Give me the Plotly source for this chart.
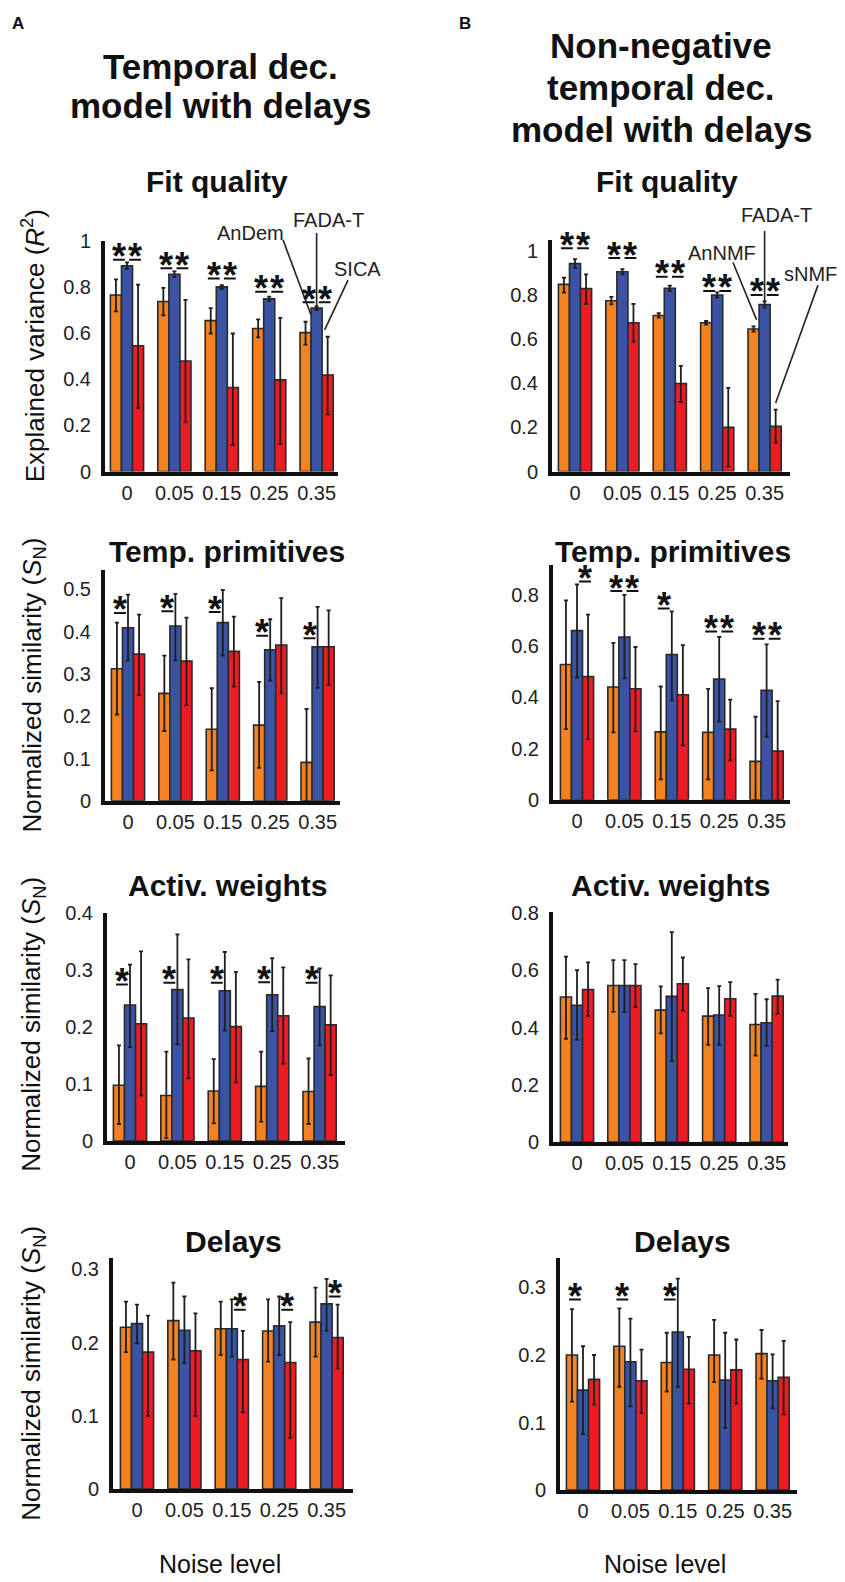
import plotly.graph_objects as go

W, H = 845, 1582
FONT = "Liberation Sans, Arial, sans-serif"

noise_labels = ["0", "0.05", "0.15", "0.25", "0.35"]
groups = [0, 1, 2, 3, 4]

names_A = ["AnDem", "FADA-T", "SICA"]
names_B = ["AnNMF", "FADA-T", "sNMF"]
colors = ["#F58220", "#3A53A4", "#ED1C24"]

# ---- A1: Fit quality (temporal dec. model) ----
A1_or = [0.765, 0.737, 0.654, 0.620, 0.602]
A1_or_lo = [0.694, 0.677, 0.598, 0.581, 0.550]
A1_or_hi = [0.833, 0.796, 0.708, 0.659, 0.649]
A1_bl = [0.892, 0.855, 0.800, 0.748, 0.708]
A1_bl_lo = [0.878, 0.843, 0.792, 0.738, 0.700]
A1_bl_hi = [0.906, 0.867, 0.808, 0.758, 0.716]
A1_rd = [0.545, 0.479, 0.364, 0.397, 0.418]
A1_rd_lo = [0.276, 0.215, 0.116, 0.120, 0.248]
A1_rd_hi = [0.810, 0.744, 0.598, 0.666, 0.584]
A1_star_ob = [0.918, 0.881, 0.836, 0.779, 0.734]
A1_star_br = [0.918, 0.881, 0.836, 0.779, 0.734]

# ---- A2: Temp. primitives ----
A2_or = [0.312, 0.254, 0.169, 0.179, 0.091]
A2_or_lo = [0.204, 0.165, 0.072, 0.078, 0.0]
A2_or_hi = [0.421, 0.343, 0.266, 0.281, 0.217]
A2_bl = [0.409, 0.413, 0.421, 0.357, 0.364]
A2_bl_lo = [0.332, 0.332, 0.343, 0.284, 0.267]
A2_bl_hi = [0.487, 0.489, 0.498, 0.429, 0.458]
A2_rd = [0.347, 0.330, 0.353, 0.368, 0.364]
A2_rd_lo = [0.250, 0.226, 0.270, 0.254, 0.274]
A2_rd_hi = [0.440, 0.433, 0.435, 0.479, 0.450]
A2_star_ob = [0.444, 0.448, 0.446, 0.390, 0.384]
A2_star_br = [None, None, None, None, None]

# ---- A3: Activ. weights ----
A3_or = [0.098, 0.080, 0.088, 0.096, 0.087]
A3_or_lo = [0.030, 0.005, 0.031, 0.034, 0.030]
A3_or_hi = [0.168, 0.157, 0.144, 0.157, 0.145]
A3_bl = [0.239, 0.266, 0.264, 0.257, 0.236]
A3_bl_lo = [0.165, 0.170, 0.194, 0.193, 0.168]
A3_bl_hi = [0.310, 0.363, 0.332, 0.321, 0.303]
A3_rd = [0.206, 0.216, 0.201, 0.220, 0.204]
A3_rd_lo = [0.080, 0.110, 0.103, 0.136, 0.116]
A3_rd_hi = [0.333, 0.319, 0.297, 0.305, 0.291]
A3_star_ob = [0.275, 0.278, 0.278, 0.279, 0.278]
A3_star_br = [None, None, None, None, None]

# ---- A4: Delays ----
A4_or = [0.221, 0.230, 0.219, 0.216, 0.228]
A4_or_lo = [0.187, 0.177, 0.183, 0.174, 0.181]
A4_or_hi = [0.256, 0.282, 0.256, 0.259, 0.275]
A4_bl = [0.226, 0.217, 0.219, 0.223, 0.253]
A4_bl_lo = [0.199, 0.172, 0.181, 0.183, 0.216]
A4_bl_hi = [0.252, 0.263, 0.259, 0.263, 0.287]
A4_rd = [0.187, 0.189, 0.177, 0.173, 0.207]
A4_rd_lo = [0.100, 0.100, 0.105, 0.070, 0.165]
A4_rd_hi = [0.237, 0.240, 0.216, 0.228, 0.252]
A4_star_ob = [None, None, None, None, None]
A4_star_br = [None, None, 0.245, 0.245, 0.263]

# ---- B1: Fit quality (non-negative model) ----
B1_or = [0.848, 0.774, 0.707, 0.674, 0.646]
B1_or_lo = [0.811, 0.757, 0.697, 0.666, 0.634]
B1_or_hi = [0.878, 0.791, 0.717, 0.682, 0.658]
B1_bl = [0.942, 0.905, 0.830, 0.800, 0.756]
B1_bl_lo = [0.922, 0.893, 0.818, 0.788, 0.741]
B1_bl_hi = [0.962, 0.917, 0.842, 0.812, 0.771]
B1_rd = [0.829, 0.674, 0.399, 0.200, 0.205]
B1_rd_lo = [0.759, 0.588, 0.315, 0.022, 0.131]
B1_rd_hi = [0.893, 0.759, 0.479, 0.379, 0.280]
B1_star_ob = [1.012, 0.967, 0.882, 0.818, 0.800]
B1_star_br = [1.012, 0.967, 0.882, 0.818, 0.800]

# ---- B2: Temp. primitives ----
B2_or = [0.528, 0.440, 0.265, 0.263, 0.150]
B2_or_lo = [0.276, 0.263, 0.080, 0.080, 0.0]
B2_or_hi = [0.778, 0.612, 0.442, 0.433, 0.324]
B2_bl = [0.660, 0.635, 0.567, 0.471, 0.427]
B2_bl_lo = [0.477, 0.474, 0.388, 0.305, 0.246]
B2_bl_hi = [0.840, 0.799, 0.735, 0.635, 0.606]
B2_rd = [0.481, 0.433, 0.410, 0.276, 0.190]
B2_rd_lo = [0.237, 0.267, 0.212, 0.154, 0.0]
B2_rd_hi = [0.722, 0.596, 0.603, 0.391, 0.385]
B2_star_ob = [None, 0.814, 0.746, 0.656, 0.628]
B2_star_br = [0.851, 0.814, None, 0.656, 0.628]

# ---- B3: Activ. weights ----
B3_or = [0.507, 0.547, 0.461, 0.440, 0.411]
B3_or_lo = [0.361, 0.455, 0.380, 0.340, 0.302]
B3_or_hi = [0.648, 0.636, 0.544, 0.538, 0.518]
B3_bl = [0.478, 0.547, 0.509, 0.444, 0.417]
B3_bl_lo = [0.357, 0.455, 0.283, 0.340, 0.337]
B3_bl_hi = [0.601, 0.636, 0.734, 0.545, 0.499]
B3_rd = [0.533, 0.547, 0.553, 0.501, 0.510]
B3_rd_lo = [0.441, 0.472, 0.459, 0.441, 0.449]
B3_rd_hi = [0.628, 0.622, 0.645, 0.559, 0.568]
B3_star_ob = [None, None, None, None, None]
B3_star_br = [None, None, None, None, None]

# ---- B4: Delays ----
B4_or = [0.200, 0.213, 0.189, 0.200, 0.202]
B4_or_lo = [0.131, 0.153, 0.146, 0.160, 0.165]
B4_or_hi = [0.268, 0.269, 0.233, 0.252, 0.237]
B4_bl = [0.148, 0.190, 0.234, 0.163, 0.162]
B4_bl_lo = [0.083, 0.124, 0.153, 0.092, 0.121]
B4_bl_hi = [0.213, 0.254, 0.313, 0.233, 0.201]
B4_rd = [0.164, 0.162, 0.179, 0.178, 0.167]
B4_rd_lo = [0.127, 0.114, 0.128, 0.128, 0.112]
B4_rd_hi = [0.200, 0.208, 0.227, 0.223, 0.221]
B4_star_ob = [0.282, 0.282, 0.282, None, None]
B4_star_br = [None, None, None, None, None]

# y ticks per panel
A1_yt = [0, 0.2, 0.4, 0.6, 0.8, 1]
A2_yt = [0, 0.1, 0.2, 0.3, 0.4, 0.5]
A3_yt = [0, 0.1, 0.2, 0.3, 0.4]
A4_yt = [0, 0.1, 0.2, 0.3]
B1_yt = [0, 0.2, 0.4, 0.6, 0.8, 1]
B2_yt = [0, 0.2, 0.4, 0.6, 0.8]
B3_yt = [0, 0.2, 0.4, 0.6, 0.8]
B4_yt = [0, 0.1, 0.2, 0.3]

# layout geometry in pixels: left, right, top, bottom, first group centre, y max
SP = 47.4
panels = [
    dict(d=[A1_or, A1_bl, A1_rd], lo=[A1_or_lo, A1_bl_lo, A1_rd_lo], hi=[A1_or_hi, A1_bl_hi, A1_rd_hi],
         sob=A1_star_ob, sbr=A1_star_br, yt=A1_yt, g=(105, 338, 233, 467, 127, 1.0), names=names_A),
    dict(d=[A2_or, A2_bl, A2_rd], lo=[A2_or_lo, A2_bl_lo, A2_rd_lo], hi=[A2_or_hi, A2_bl_hi, A2_rd_hi],
         sob=A2_star_ob, sbr=A2_star_br, yt=A2_yt, g=(105, 340, 567, 801, 128, 0.545), names=names_A),
    dict(d=[A3_or, A3_bl, A3_rd], lo=[A3_or_lo, A3_bl_lo, A3_rd_lo], hi=[A3_or_hi, A3_bl_hi, A3_rd_hi],
         sob=A3_star_ob, sbr=A3_star_br, yt=A3_yt, g=(107, 345, 915, 1146, 130, 0.4), names=names_A),
    dict(d=[A4_or, A4_bl, A4_rd], lo=[A4_or_lo, A4_bl_lo, A4_rd_lo], hi=[A4_or_hi, A4_bl_hi, A4_rd_hi],
         sob=A4_star_ob, sbr=A4_star_br, yt=A4_yt, g=(113, 353, 1265, 1499, 137, 0.315), names=names_A),
    dict(d=[B1_or, B1_bl, B1_rd], lo=[B1_or_lo, B1_bl_lo, B1_rd_lo], hi=[B1_or_hi, B1_bl_hi, B1_rd_hi],
         sob=B1_star_ob, sbr=B1_star_br, yt=B1_yt, g=(552, 790, 232, 467, 575, 1.05), names=names_B),
    dict(d=[B2_or, B2_bl, B2_rd], lo=[B2_or_lo, B2_bl_lo, B2_rd_lo], hi=[B2_or_hi, B2_bl_hi, B2_rd_hi],
         sob=B2_star_ob, sbr=B2_star_br, yt=B2_yt, g=(553, 790, 562, 800, 577, 0.915), names=names_B),
    dict(d=[B3_or, B3_bl, B3_rd], lo=[B3_or_lo, B3_bl_lo, B3_rd_lo], hi=[B3_or_hi, B3_bl_hi, B3_rd_hi],
         sob=B3_star_ob, sbr=B3_star_br, yt=B3_yt, g=(553, 788, 914, 1147, 577, 0.803), names=names_B),
    dict(d=[B4_or, B4_bl, B4_rd], lo=[B4_or_lo, B4_bl_lo, B4_rd_lo], hi=[B4_or_hi, B4_bl_hi, B4_rd_hi],
         sob=B4_star_ob, sbr=B4_star_br, yt=B4_yt, g=(560, 797, 1265, 1500, 583, 0.343), names=names_B),
]

fig = go.Figure()
annotations = []
shapes = []
layout_axes = {}

def tick_text(v):
    return "0" if v == 0 else ("1" if v == 1 else ("%g" % v))

def data_to_px(p, x, y):
    L, R, T, B, c0, ymax = p["g"]
    return (c0 + x * SP, B - y / ymax * (B - T))

for k, p in enumerate(panels):
    n = k + 1
    xa = "x" if n == 1 else "x%d" % n
    ya = "y" if n == 1 else "y%d" % n
    L, R, T, B, c0, ymax = p["g"]
    for j in range(3):
        vals = p["d"][j]
        fig.add_trace(go.Bar(
            x=groups, y=vals, xaxis=xa, yaxis=ya, name=p["names"][j], showlegend=False,
            offsetgroup=str(j),
            marker=dict(color=colors[j], line=dict(color="#2a2a2a", width=1.6)),
            error_y=dict(type="data", symmetric=False,
                         array=[h - v for h, v in zip(p["hi"][j], vals)],
                         arrayminus=[v - l for v, l in zip(vals, p["lo"][j])],
                         color="#1e1e1e", thickness=1.8, width=2),
        ))
    layout_axes["xaxis" if n == 1 else "xaxis%d" % n] = dict(
        domain=[L / W, R / W], range=[(L - c0) / SP, (R - c0) / SP], anchor=ya,
        tickvals=groups, ticktext=noise_labels, showline=True, linewidth=4, linecolor="#111",
        ticks="", showgrid=False, zeroline=False,
        tickfont=dict(size=20, color="#222", family=FONT), fixedrange=True)
    layout_axes["yaxis" if n == 1 else "yaxis%d" % n] = dict(
        domain=[1 - B / H, 1 - T / H], range=[0, ymax], anchor=xa,
        tickvals=p["yt"], ticktext=[tick_text(v) for v in p["yt"]], showline=True, linewidth=4,
        linecolor="#111", ticks="outside", ticklen=6, tickcolor="rgba(0,0,0,0)", showgrid=False,
        zeroline=False, tickfont=dict(size=20, color="#222", family=FONT), fixedrange=True)
    # significance stars
    for side, lst in ((-0.17, p["sob"]), (0.17, p["sbr"])):
        for gi, u in zip(groups, lst):
            if u is None:
                continue
            annotations.append(dict(x=gi + side, y=u, xref=xa, yref=ya, text="<b>*</b>",
                                    showarrow=False, yanchor="middle", yshift=3,
                                    font=dict(size=36, color="#111", family=FONT)))
            shapes.append(dict(type="line", xref=xa, yref=ya, x0=gi + side - 0.125, x1=gi + side + 0.125,
                               y0=u, y1=u, line=dict(color="#111", width=2)))

# method labels with leader lines (fit-quality panels), drawn in page coordinates
w = 0.7 / 3
pA, pB = panels[0], panels[4]
leaders = [
    (pA, 4 - 0.12, A1_or_hi[4] + 0.03, (283, 232)),
    (pA, 4.0, A1_bl_hi[4], (None, 225)),
    (pA, 4 + 0.17, A1_rd_hi[4] + 0.03, (348, 273)),
    (pB, 4 - 0.17, B1_or_hi[4] + 0.03, (733, 255)),
    (pB, 4.0, B1_bl_hi[4], (None, 223)),
    (pB, 4 + w, B1_rd_hi[4] + 0.03, (818, 278)),
]
for p, tx, ty, (tpx, tpy) in leaders:
    hx, hy = data_to_px(p, tx, ty)
    if tpx is None:
        tpx = hx
    shapes.append(dict(type="line", xref="paper", yref="paper",
                       x0=hx / W, y0=1 - hy / H, x1=tpx / W, y1=1 - tpy / H,
                       line=dict(color="#222", width=1.6)))

def ptext(txt, px, py, size, bold=False, angle=0, color="#111"):
    annotations.append(dict(x=px / W, y=1 - py / H, xref="paper", yref="paper",
                            text=("<b>%s</b>" % txt) if bold else txt, showarrow=False,
                            xanchor="center", yanchor="middle", textangle=angle,
                            font=dict(size=size, color=color, family=FONT)))

for txt, px, py in [("AnDem", 250, 225), ("FADA-T", 328, 212), ("SICA", 357, 262),
                    ("AnNMF", 722, 245), ("FADA-T", 776, 207), ("sNMF", 810, 267)]:
    ptext(txt, px, py, 20, color="#222")

ptext("A", 18, 13, 17, bold=True)
ptext("B", 465, 13, 17, bold=True)
ptext("Temporal dec.", 220, 56, 35, bold=True)
ptext("model with delays", 220, 96, 35, bold=True)
ptext("Non-negative", 661, 35, 35, bold=True)
ptext("temporal dec.", 661, 78, 35, bold=True)
ptext("model with delays", 661, 120, 35, bold=True)

for txt, pxl, pxr, py in [("Fit quality", 217, 667, 173), ("Temp. primitives", 227, 673, 548),
                          ("Activ. weights", 227, 670, 887), ("Delays", 233, 682, 1248)]:
    ptext(txt, pxl, py, 30, bold=True)
    ptext(txt, pxr, py, 30, bold=True)

ptext("Explained variance (<i>R</i><sup>2</sup>)", 33, 340, 26, angle=-90)
ptext("Normalized similarity (<i>S</i><sub>N</sub>)", 33, 684, 26, angle=-90)
ptext("Normalized similarity (<i>S</i><sub>N</sub>)", 33, 1028, 26, angle=-90)
ptext("Normalized similarity (<i>S</i><sub>N</sub>)", 33, 1382, 26, angle=-90)
ptext("Noise level", 220, 1575, 25)
ptext("Noise level", 665, 1575, 25)

fig.update_layout(
    width=W, height=H, margin=dict(l=0, r=0, t=0, b=0), autosize=False,
    paper_bgcolor="white", plot_bgcolor="white", barmode="group", bargap=0.3, bargroupgap=0,
    annotations=annotations, shapes=shapes, font=dict(family=FONT), **layout_axes)

fig.write_html("out.html", config={"displayModeBar": False},
               post_script="document.body.style.margin='0px';document.body.style.overflow='hidden';")
